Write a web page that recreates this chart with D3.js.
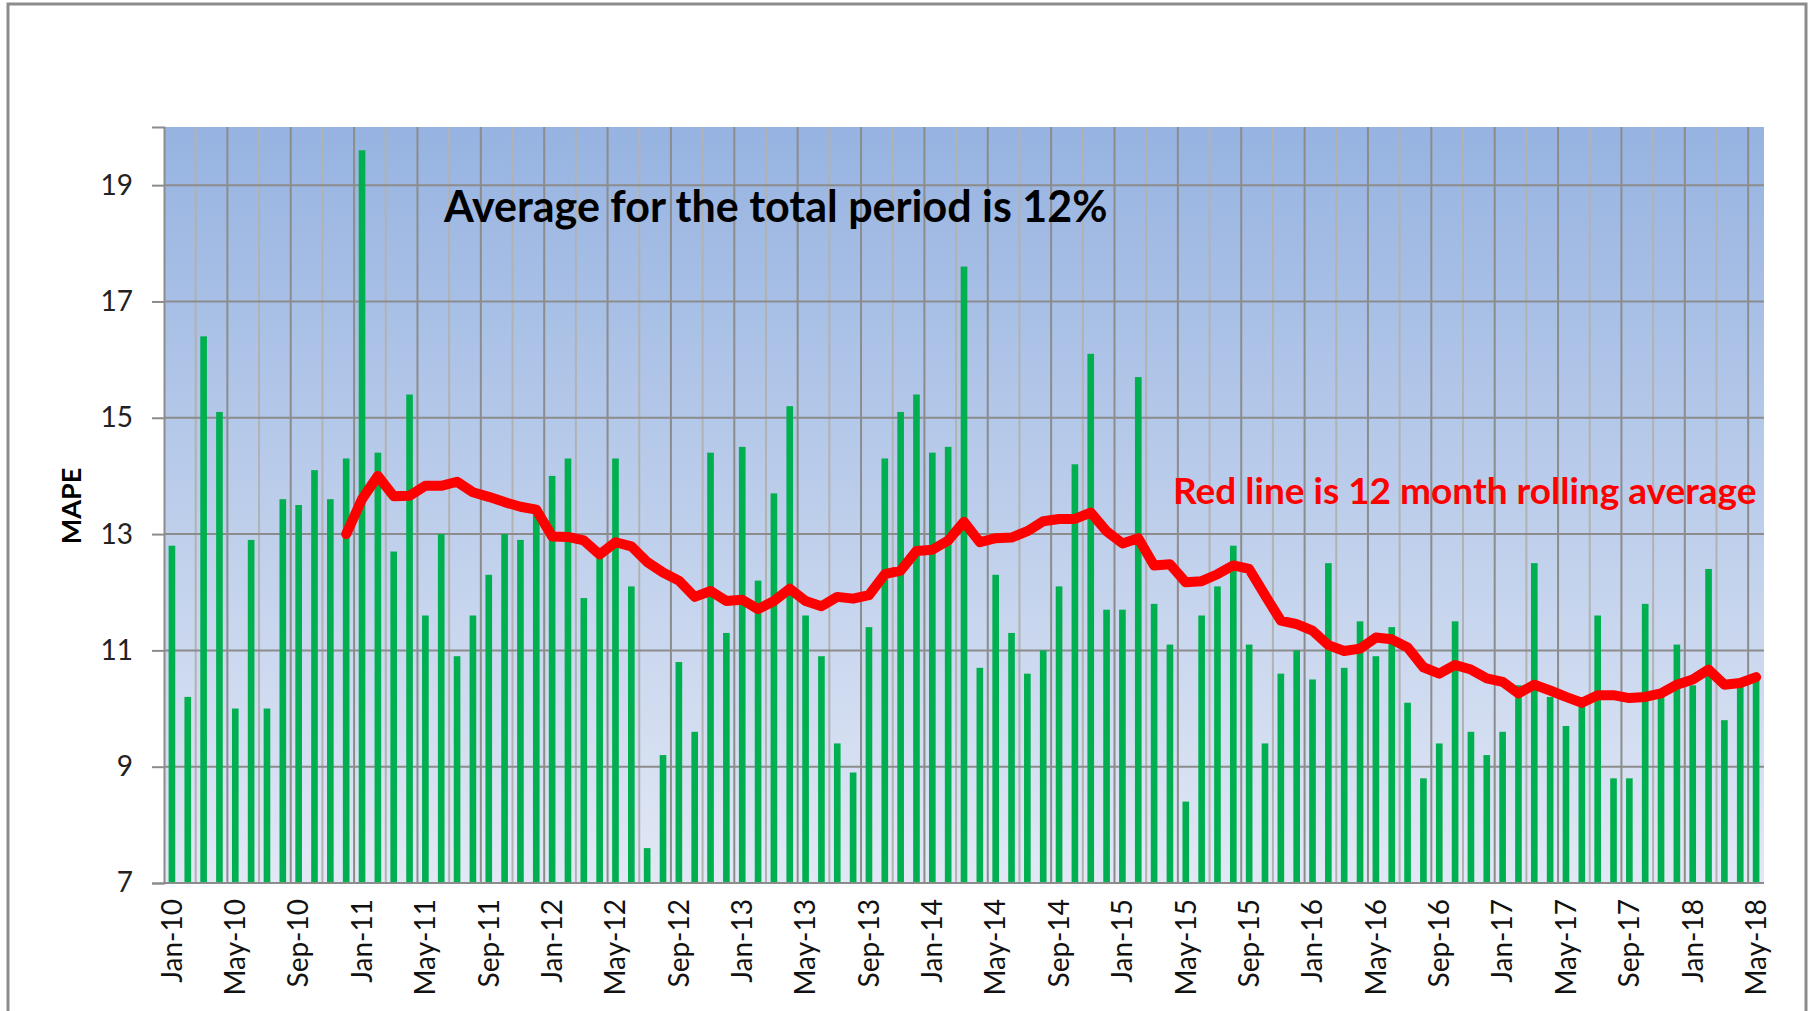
<!DOCTYPE html>
<html>
<head>
<meta charset="utf-8">
<script src="https://cdn.jsdelivr.net/npm/d3@7"></script>
<style>
  body { margin: 0; background: #fff; }
  svg { display: block; font-family: Lato, "Open Sans", sans-serif; }
</style>
</head>
<body>
<div id="chart"></div>
<script>
// monthly MAPE, Jan-10 .. May-18
var mape = [
    12.8, 10.2, 16.4, 15.1, 10.0, 12.9, 10.0, 13.6, 13.5, 14.1, 13.6, 14.3,
    19.6, 14.4, 12.7, 15.4, 11.6, 13.0, 10.9, 11.6, 12.3, 13.0, 12.9, 13.4,
    14.0, 14.3, 11.9, 12.6, 14.3, 12.1, 7.6, 9.2, 10.8, 9.6, 14.4, 11.3,
    14.5, 12.2, 13.7, 15.2, 11.6, 10.9, 9.4, 8.9, 11.4, 14.3, 15.1, 15.4,
    14.4, 14.5, 17.6, 10.7, 12.3, 11.3, 10.6, 11.0, 12.1, 14.2, 16.1, 11.7,
    11.7, 15.7, 11.8, 11.1, 8.4, 11.6, 12.1, 12.8, 11.1, 9.4, 10.6, 11.0,
    10.5, 12.5, 10.7, 11.5, 10.9, 11.4, 10.1, 8.8, 9.4, 11.5, 9.6, 9.2,
    9.6, 10.4, 12.5, 10.2, 9.7, 10.1, 11.6, 8.8, 8.8, 11.8, 10.2, 11.1,
    10.4, 12.4, 9.8, 10.4, 10.5
];

// 12 month rolling average, starts at Dec-10
var rollingStart = 11;
var rolling = [
    13.0, 13.6, 14.0, 13.65, 13.66, 13.83, 13.83, 13.9, 13.72, 13.64, 13.55, 13.47,
    13.42, 12.96, 12.95, 12.89, 12.65, 12.86, 12.79, 12.52, 12.34, 12.2, 11.92, 12.02,
    11.85, 11.87, 11.71, 11.85, 12.06, 11.85, 11.76, 11.92, 11.89, 11.95, 12.31, 12.37,
    12.71, 12.73, 12.89, 13.21, 12.86, 12.93, 12.94, 13.05, 13.22, 13.26, 13.26, 13.37,
    13.05, 12.84, 12.93, 12.46, 12.48, 12.17, 12.19, 12.31, 12.46, 12.4, 11.95, 11.51,
    11.45, 11.34, 11.09, 10.99, 11.03, 11.22, 11.19, 11.05, 10.71, 10.6, 10.75, 10.67,
    10.52, 10.46, 10.26, 10.41, 10.31, 10.2, 10.1, 10.23, 10.23, 10.18, 10.2, 10.26,
    10.41, 10.5, 10.67, 10.41, 10.44, 10.54
];

var tickLabels = [
    "Jan-10", "May-10", "Sep-10", "Jan-11", "May-11", "Sep-11", "Jan-12", "May-12", "Sep-12",
    "Jan-13", "May-13", "Sep-13", "Jan-14", "May-14", "Sep-14", "Jan-15", "May-15", "Sep-15",
    "Jan-16", "May-16", "Sep-16", "Jan-17", "May-17", "Sep-17", "Jan-18", "May-18"
];
var yTicks = [7, 9, 11, 13, 15, 17, 19];

var width = 1808, height = 1011;
var plotL = 164, plotR = 1764, plotT = 127, plotB = 883;

var svg = d3.select("#chart")
    .append("svg")
    .attr("width", width)
    .attr("height", height);

// chart border
svg.append("rect")
    .attr("x", 8).attr("y", 4)
    .attr("width", 1798).attr("height", 1030)
    .attr("fill", "#fff")
    .attr("stroke", "#8c8c8c")
    .attr("stroke-width", 3);

var grad = svg.append("defs").append("linearGradient")
    .attr("id", "bg")
    .attr("x1", 0).attr("y1", 0).attr("x2", 0).attr("y2", 1);
grad.append("stop").attr("offset", "0%").attr("stop-color", "#96b3e1");
grad.append("stop").attr("offset", "100%").attr("stop-color", "#e2e8f5");

var idx = d3.range(mape.length);

var xCell = d3.scaleBand().domain(idx).range([plotL, plotR]);
var x = d3.scaleBand().domain(idx).range([plotL, plotR])
    .paddingInner(0.58).paddingOuter(0.29);
var y = d3.scaleLinear().domain([7, 20]).range([plotB, plotT]);

svg.append("rect")
    .attr("x", plotL).attr("y", plotT)
    .attr("width", plotR - plotL).attr("height", plotB - plotT)
    .attr("fill", "url(#bg)");

// vertical grid: dark every 4 months, light in between
var vlines = d3.range(2, mape.length + 1, 2);
svg.append("g")
    .selectAll("line")
    .data(vlines)
    .join("line")
    .attr("x1", d => d === mape.length ? plotR : xCell(d))
    .attr("x2", d => d === mape.length ? plotR : xCell(d))
    .attr("y1", plotT)
    .attr("y2", plotB)
    .attr("stroke", d => d % 4 === 0 ? "#8c8c8c" : "#b2b2b2")
    .attr("stroke-width", 2);

// horizontal grid
svg.append("g")
    .selectAll("line")
    .data(yTicks)
    .join("line")
    .attr("x1", plotL)
    .attr("x2", plotR)
    .attr("y1", d => y(d))
    .attr("y2", d => y(d))
    .attr("stroke", "#8c8c8c")
    .attr("stroke-width", 2);

// bars
svg.append("g")
    .selectAll("rect")
    .data(mape)
    .join("rect")
    .attr("x", (d, i) => x(i))
    .attr("width", x.bandwidth())
    .attr("y", d => y(d))
    .attr("height", d => plotB - y(d))
    .attr("fill", "#00b050");

// rolling average line
var line = d3.line()
    .x((d, i) => x(i + rollingStart) + x.bandwidth() / 2)
    .y(d => y(d));

svg.append("path")
    .datum(rolling)
    .attr("d", line)
    .attr("fill", "none")
    .attr("stroke", "#ff0000")
    .attr("stroke-width", 10)
    .attr("stroke-linejoin", "round")
    .attr("stroke-linecap", "round");

// y axis
var yAxis = svg.append("g")
    .attr("transform", `translate(${plotL},0)`)
    .call(d3.axisLeft(y).tickValues(yTicks).tickSize(12).tickPadding(19));
yAxis.select(".domain").attr("stroke", "#8c8c8c").attr("stroke-width", 2);
yAxis.selectAll(".tick line").attr("stroke", "#8c8c8c").attr("stroke-width", 2);
yAxis.selectAll("text")
    .attr("fill", "#222")
    .style("font-size", "28px")
    .style("font-family", "Lato, sans-serif");

// x axis line
svg.append("line")
    .attr("x1", plotL).attr("x2", plotR)
    .attr("y1", plotB).attr("y2", plotB)
    .attr("stroke", "#8c8c8c")
    .attr("stroke-width", 2);

// x labels every 4 months
svg.append("g")
    .selectAll("text")
    .data(tickLabels)
    .join("text")
    .attr("transform", (d, i) => `translate(${x(i * 4) + x.bandwidth() / 2},${plotB + 16}) rotate(-90)`)
    .attr("text-anchor", "end")
    .attr("dy", "0.35em")
    .style("font-size", "28px")
    .attr("fill", "#111")
    .text(d => d);

// y axis title
svg.append("text")
    .attr("transform", "translate(72,506) rotate(-90)")
    .attr("text-anchor", "middle")
    .attr("dy", "0.35em")
    .style("font-size", "27px")
    .style("font-weight", "bold")
    .text("MAPE");

// annotations
svg.append("text")
    .attr("x", 444)
    .attr("y", 207)
    .attr("dy", "0.35em")
    .style("font-size", "43px")
    .style("font-weight", "bold")
    .attr("fill", "#000")
    .text("Average for the total period is 12%");

svg.append("text")
    .attr("x", 1173)
    .attr("y", 491)
    .attr("dy", "0.35em")
    .style("font-size", "37px")
    .style("font-weight", "bold")
    .attr("fill", "#ff0000")
    .text("Red line is 12 month rolling average");
</script>
</body>
</html>
